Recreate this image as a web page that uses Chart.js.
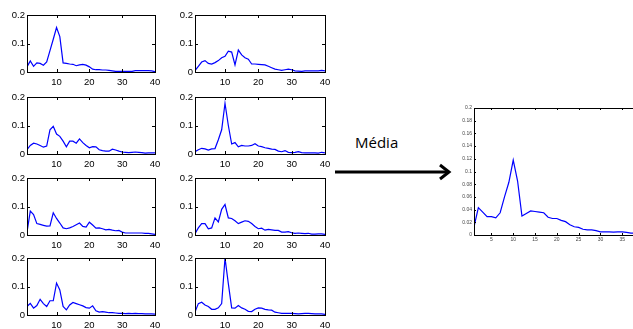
<!DOCTYPE html>
<html>
<head>
<meta charset="utf-8">
<script src="https://cdn.jsdelivr.net/npm/chart.js@4/dist/chart.umd.min.js"></script>
<style>
    html, body { margin: 0; padding: 0; background: #fff; }
    body { width: 633px; height: 329px; overflow: hidden; position: relative; }
    canvas { position: absolute; }
    #arrow { position: absolute; left: 0; top: 0; }
</style>
</head>
<body>
<svg id="arrow" width="633" height="329">
    <text x="355" y="148" font-family="Open Sans" font-size="15" fill="#000">Média</text>
    <line x1="335" y1="172" x2="448" y2="172" stroke="#000" stroke-width="3"/>
    <polyline points="440,165 449,172 440,179" fill="none" stroke="#000" stroke-width="3" stroke-linejoin="miter"/>
</svg>
<script>
const xValues = [1, 2, 3, 4, 5, 6, 7, 8, 9, 10, 11, 12, 13, 14, 15, 16, 17, 18, 19, 20,
                 21, 22, 23, 24, 25, 26, 27, 28, 29, 30, 31, 32, 33, 34, 35, 36, 37, 38, 39, 40];

const series1 = [0.018, 0.039, 0.020, 0.032, 0.030, 0.024, 0.035, 0.075, 0.115, 0.156,
                 0.124, 0.032, 0.030, 0.028, 0.027, 0.022, 0.025, 0.027, 0.024, 0.018,
                 0.010, 0.008, 0.008, 0.007, 0.007, 0.006, 0.004, 0.002, 0.002, 0.002,
                 0.002, 0.002, 0.002, 0.005, 0.005, 0.005, 0.005, 0.005, 0.004, 0.001];
const series2 = [0.005, 0.020, 0.035, 0.040, 0.030, 0.028, 0.033, 0.040, 0.050, 0.055,
                 0.073, 0.070, 0.025, 0.077, 0.060, 0.050, 0.045, 0.028, 0.028, 0.027,
                 0.026, 0.025, 0.020, 0.015, 0.010, 0.008, 0.006, 0.008, 0.010, 0.008,
                 0.004, 0.003, 0.002, 0.004, 0.004, 0.004, 0.004, 0.004, 0.006, 0.004];
const series3 = [0.015, 0.030, 0.038, 0.035, 0.030, 0.024, 0.028, 0.085, 0.097, 0.070,
                 0.062, 0.045, 0.025, 0.045, 0.045, 0.038, 0.053, 0.040, 0.030, 0.022,
                 0.026, 0.025, 0.015, 0.012, 0.010, 0.010, 0.017, 0.014, 0.010, 0.007,
                 0.006, 0.005, 0.006, 0.007, 0.006, 0.005, 0.003, 0.004, 0.004, 0.004];
const series4 = [0.008, 0.015, 0.020, 0.018, 0.014, 0.018, 0.019, 0.050, 0.085, 0.178,
                 0.100, 0.035, 0.040, 0.025, 0.030, 0.028, 0.028, 0.030, 0.036, 0.028,
                 0.026, 0.022, 0.020, 0.017, 0.016, 0.010, 0.008, 0.012, 0.006, 0.005,
                 0.006, 0.008, 0.005, 0.004, 0.004, 0.004, 0.004, 0.003, 0.006, 0.004];
const series5 = [0.010, 0.084, 0.072, 0.040, 0.037, 0.034, 0.031, 0.032, 0.078, 0.058,
                 0.042, 0.025, 0.022, 0.025, 0.030, 0.036, 0.042, 0.030, 0.028, 0.045,
                 0.035, 0.024, 0.025, 0.022, 0.018, 0.020, 0.017, 0.015, 0.016, 0.010,
                 0.007, 0.007, 0.007, 0.007, 0.007, 0.007, 0.006, 0.006, 0.004, 0.002];
const series6 = [0.005, 0.025, 0.040, 0.040, 0.022, 0.025, 0.060, 0.046, 0.090, 0.107,
                 0.060, 0.058, 0.050, 0.040, 0.045, 0.050, 0.048, 0.040, 0.030, 0.022,
                 0.024, 0.017, 0.020, 0.018, 0.016, 0.016, 0.010, 0.010, 0.012, 0.008,
                 0.006, 0.007, 0.006, 0.005, 0.006, 0.003, 0.003, 0.004, 0.004, 0.002];
const series7 = [0.030, 0.041, 0.024, 0.033, 0.055, 0.040, 0.030, 0.050, 0.050, 0.112,
                 0.088, 0.030, 0.018, 0.035, 0.044, 0.040, 0.036, 0.032, 0.026, 0.024,
                 0.032, 0.015, 0.010, 0.012, 0.010, 0.008, 0.008, 0.007, 0.006, 0.006,
                 0.005, 0.006, 0.005, 0.006, 0.005, 0.005, 0.004, 0.004, 0.004, 0.003];
const series8 = [0.010, 0.040, 0.045, 0.035, 0.030, 0.020, 0.020, 0.025, 0.040, 0.200,
                 0.110, 0.025, 0.024, 0.033, 0.025, 0.020, 0.013, 0.012, 0.020, 0.025,
                 0.024, 0.020, 0.018, 0.017, 0.010, 0.008, 0.006, 0.006, 0.006, 0.006,
                 0.005, 0.004, 0.005, 0.006, 0.006, 0.005, 0.004, 0.004, 0.004, 0.002];
const meanSeries = [0.013, 0.043, 0.036, 0.029, 0.029, 0.027, 0.035, 0.060, 0.083, 0.118,
                    0.085, 0.030, 0.034, 0.038, 0.037, 0.036, 0.035, 0.028, 0.026, 0.026,
                    0.023, 0.021, 0.016, 0.013, 0.012, 0.009, 0.008, 0.008, 0.007, 0.005,
                    0.005, 0.005, 0.0045, 0.005, 0.005, 0.004, 0.003, 0.003, 0.003, 0.002];

const smallXTicks = [10, 20, 30, 40];
const smallYTicks = [0, 0.1, 0.2];
const meanXTicks = [5, 10, 15, 20, 25, 30, 35, 40];
const meanYTicks = [0, 0.02, 0.04, 0.06, 0.08, 0.1, 0.12, 0.14, 0.16, 0.18, 0.2];

// matlab-like box with ticks pointing inwards
const boxPlugin = {
    id: 'box',
    afterDraw(chart, args, opts) {
        const { ctx, chartArea: a, scales: { x, y } } = chart;
        const len = opts.tickLen;
        ctx.save();
        ctx.strokeStyle = '#000';
        ctx.lineWidth = 1;
        ctx.beginPath();
        x.ticks.forEach(t => {
            const px = Math.round(x.getPixelForValue(t.value)) + 0.5;
            if (px <= a.left + 1 || px >= a.right - 1) return;
            ctx.moveTo(px, a.bottom); ctx.lineTo(px, a.bottom - len);
            ctx.moveTo(px, a.top); ctx.lineTo(px, a.top + len);
        });
        y.ticks.forEach(t => {
            const py = Math.round(y.getPixelForValue(t.value)) + 0.5;
            if (py <= a.top + 1 || py >= a.bottom - 1) return;
            ctx.moveTo(a.left, py); ctx.lineTo(a.left + len, py);
            ctx.moveTo(a.right, py); ctx.lineTo(a.right - len, py);
        });
        ctx.stroke();
        ctx.strokeRect(Math.round(a.left) + 0.5, Math.round(a.top) + 0.5,
                       Math.round(a.right - a.left), Math.round(a.bottom - a.top));
        ctx.restore();
    }
};

function fmt(v) {
    return String(Number(v.toFixed(2)));
}

function makeChart(box, values, cfg) {
    const canvas = document.createElement('canvas');
    canvas.width = box.width;
    canvas.height = box.height;
    canvas.style.left = box.left + 'px';
    canvas.style.top = box.top + 'px';
    document.body.appendChild(canvas);

    const font = { family: 'Liberation Sans', size: cfg.fontSize };
    return new Chart(canvas.getContext('2d'), {
        type: 'line',
        data: {
            datasets: [{
                data: xValues.map((x, i) => ({ x: x, y: values[i] })),
                borderColor: 'rgb(0,0,255)',
                borderWidth: cfg.lineWidth,
                pointRadius: 0,
                tension: 0,
                fill: false
            }]
        },
        options: {
            responsive: false,
            animation: false,
            devicePixelRatio: 1,
            layout: { padding: { top: cfg.padTop, right: cfg.padRight, left: 0, bottom: 0 } },
            plugins: { legend: { display: false }, tooltip: { enabled: false }, box: { tickLen: cfg.tickLen } },
            scales: {
                x: {
                    type: 'linear',
                    min: 1,
                    max: 40,
                    grid: { display: false, drawTicks: false, tickLength: 0 },
                    border: { display: false },
                    ticks: { font: font, color: cfg.labelColor, padding: cfg.xPad, maxRotation: 0, autoSkip: false, callback: v => fmt(v) },
                    afterBuildTicks: s => { s.ticks = cfg.xTicks.map(v => ({ value: v })); },
                    afterFit: s => { s.height = cfg.xHeight; s.paddingLeft = 0; s.paddingRight = 0; }
                },
                y: {
                    min: 0,
                    max: 0.2,
                    grid: { display: false, drawTicks: false, tickLength: 0 },
                    border: { display: false },
                    ticks: { font: font, color: cfg.labelColor, padding: cfg.yPad, autoSkip: false, callback: v => fmt(v) },
                    afterBuildTicks: s => { s.ticks = cfg.yTicks.map(v => ({ value: v })); },
                    afterFit: s => { s.width = cfg.yWidth; s.paddingTop = 0; s.paddingBottom = 0; }
                }
            }
        },
        plugins: [boxPlugin]
    });
}

const smallCfg = {
    fontSize: 9.5, labelColor: '#000', lineWidth: 1.2, tickLen: 3,
    padTop: 15, padRight: 10, xHeight: 18, yWidth: 27, xPad: 5, yPad: 2,
    xTicks: smallXTicks, yTicks: smallYTicks
};

const smallSeries = [series1, series2, series3, series4, series5, series6, series7, series8];
const rowTops = [0, 82, 163, 243];
smallSeries.forEach((values, i) => {
    const col = i % 2;
    const row = Math.floor(i / 2);
    const box = col === 0
        ? { left: 0, top: rowTops[row], width: 165, height: 90 }
        : { left: 168, top: rowTops[row], width: 167, height: 90 };
    makeChart(box, values, smallCfg);
});

makeChart({ left: 454, top: 100, width: 200, height: 145 }, meanSeries, {
    fontSize: 5, labelColor: '#444', lineWidth: 1.2, tickLen: 2,
    padTop: 8, padRight: 10, xHeight: 10, yWidth: 20, xPad: 2, yPad: 2,
    xTicks: meanXTicks, yTicks: meanYTicks
});
</script>
</body>
</html>
